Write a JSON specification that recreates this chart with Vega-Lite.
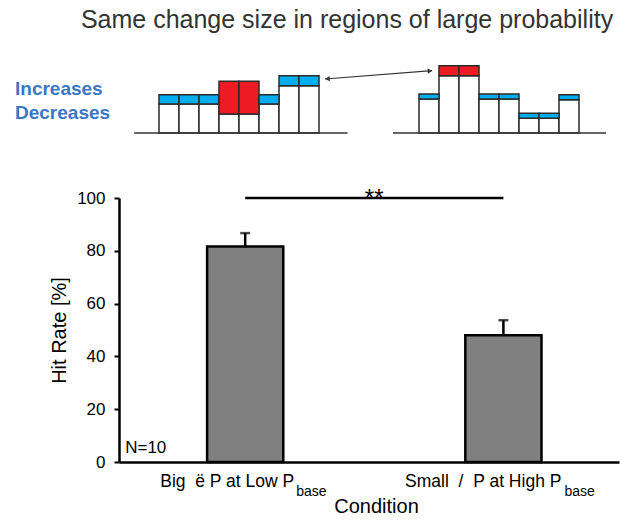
{
  "$schema": "https://vega.github.io/schema/vega-lite/v6.json",
  "padding": {"left": 14, "top": 8, "right": 4, "bottom": 4},
  "autosize": {"type": "pad"},
  "title": {"text": "Same change size in regions of large probability", "fontSize": 25, "fontWeight": "normal", "color": "#333333", "font": "Liberation Sans", "anchor": "middle", "dx": 30, "offset": 20},
  "bounds": "flush",
  "spacing": 65,
  "config": {"view": {"stroke": null}, "font": "Liberation Sans", "axis": {"grid": false}},
  "vconcat": [
    {
      "width": 500,
      "height": 80,
      "data": {"values": [
        {"hist": "low", "bin_start": 0, "bin_end": 1, "base": 2.9, "top": 3.83, "change": "decrease"},
        {"hist": "low", "bin_start": 1, "bin_end": 2, "base": 2.9, "top": 3.83, "change": "decrease"},
        {"hist": "low", "bin_start": 2, "bin_end": 3, "base": 2.9, "top": 3.83, "change": "decrease"},
        {"hist": "low", "bin_start": 3, "bin_end": 4, "base": 1.9, "top": 5.17, "change": "increase"},
        {"hist": "low", "bin_start": 4, "bin_end": 5, "base": 1.9, "top": 5.17, "change": "increase"},
        {"hist": "low", "bin_start": 5, "bin_end": 6, "base": 2.9, "top": 3.83, "change": "decrease"},
        {"hist": "low", "bin_start": 6, "bin_end": 7, "base": 4.73, "top": 5.73, "change": "decrease"},
        {"hist": "low", "bin_start": 7, "bin_end": 8, "base": 4.73, "top": 5.73, "change": "decrease"},
        {"hist": "high", "bin_start": 13, "bin_end": 14, "base": 3.4, "top": 3.9, "change": "decrease"},
        {"hist": "high", "bin_start": 14, "bin_end": 15, "base": 5.73, "top": 6.73, "change": "increase"},
        {"hist": "high", "bin_start": 15, "bin_end": 16, "base": 5.73, "top": 6.73, "change": "increase"},
        {"hist": "high", "bin_start": 16, "bin_end": 17, "base": 3.4, "top": 3.9, "change": "decrease"},
        {"hist": "high", "bin_start": 17, "bin_end": 18, "base": 3.4, "top": 3.9, "change": "decrease"},
        {"hist": "high", "bin_start": 18, "bin_end": 19, "base": 1.47, "top": 1.97, "change": "decrease"},
        {"hist": "high", "bin_start": 19, "bin_end": 20, "base": 1.47, "top": 1.97, "change": "decrease"},
        {"hist": "high", "bin_start": 20, "bin_end": 21, "base": 3.33, "top": 3.83, "change": "decrease"}
      ]},
      "layer": [
        {
          "mark": {"type": "rect", "fill": "white", "stroke": "#2b2b2b", "strokeWidth": 1.5},
          "encoding": {
            "x": {"field": "bin_start", "type": "quantitative", "scale": {"domain": [-2, 23], "nice": false, "zero": false}, "axis": null},
            "x2": {"field": "bin_end"},
            "y": {"field": "base", "type": "quantitative", "scale": {"domain": [0, 8], "nice": false}, "axis": null},
            "y2": {"datum": 0}
          }
        },
        {
          "mark": {"type": "rect", "stroke": "#2b2b2b", "strokeWidth": 1.5},
          "encoding": {
            "x": {"field": "bin_start", "type": "quantitative"},
            "x2": {"field": "bin_end"},
            "y": {"field": "base", "type": "quantitative"},
            "y2": {"field": "top"},
            "color": {"field": "change", "type": "nominal", "scale": {"domain": ["increase", "decrease"], "range": ["#ED1C24", "#00AEEF"]}, "legend": null}
          }
        },
        {
          "data": {"values": [{}]},
          "mark": {"type": "rule", "stroke": "#333333", "strokeWidth": 1.5},
          "encoding": {"x": {"datum": -1.24}, "x2": {"datum": 9.43}, "y": {"datum": 0}}
        },
        {
          "data": {"values": [{}]},
          "mark": {"type": "rule", "stroke": "#333333", "strokeWidth": 1.5},
          "encoding": {"x": {"datum": 11.7}, "x2": {"datum": 22.35}, "y": {"datum": 0}}
        },
        {
          "data": {"values": [{}]},
          "mark": {"type": "rule", "stroke": "#333333", "strokeWidth": 1.2},
          "encoding": {"x": {"datum": 8.3}, "x2": {"datum": 13.65}, "y": {"datum": 5.4}, "y2": {"datum": 6.23}}
        },
        {
          "data": {"values": [{}]},
          "mark": {"type": "point", "shape": "triangle-left", "filled": true, "color": "#333333", "opacity": 1, "size": 28, "angle": -4.3},
          "encoding": {"x": {"datum": 8.42}, "y": {"datum": 5.42}}
        },
        {
          "data": {"values": [{}]},
          "mark": {"type": "point", "shape": "triangle-right", "filled": true, "color": "#333333", "opacity": 1, "size": 28, "angle": -4.3},
          "encoding": {"x": {"datum": 13.55}, "y": {"datum": 6.21}}
        },
        {
          "data": {"values": [{}]},
          "mark": {"type": "text", "text": "Increases", "align": "left", "baseline": "middle", "fontSize": 19, "fontWeight": "bold", "color": "#3A77C5"},
          "encoding": {"x": {"datum": -7.2}, "y": {"datum": 4.45}}
        },
        {
          "data": {"values": [{}]},
          "mark": {"type": "text", "text": "Decreases", "align": "left", "baseline": "middle", "fontSize": 19, "fontWeight": "bold", "color": "#3A77C5"},
          "encoding": {"x": {"datum": -7.2}, "y": {"datum": 2.03}}
        }
      ]
    },
    {
      "width": 500,
      "height": 264,
      "data": {"values": [
        {"condition": "big", "hit": 81.6, "upper": 86.7},
        {"condition": "small", "hit": 48.0, "upper": 53.7}
      ]},
      "layer": [
        {
          "mark": {"type": "bar", "fill": "#808080", "stroke": "black", "strokeWidth": 2.5},
          "encoding": {
            "x": {"field": "condition", "type": "nominal", "sort": ["big", "small"],
                  "scale": {"domain": ["big", "small"], "paddingInner": 0.705, "paddingOuter": 0.3207, "align": 0.532},
                  "axis": {"labels": false, "ticks": false, "domainColor": "black", "domainWidth": 2.5, "title": "Condition", "titleFontSize": 20, "titleFontWeight": "normal", "titleColor": "black", "titlePadding": 34, "titleX": 257}},
            "y": {"field": "hit", "type": "quantitative", "scale": {"domain": [0, 100]},
                  "axis": {"values": [0, 20, 40, 60, 80, 100], "title": "Hit Rate [%]", "titleFontSize": 20, "titleFontWeight": "normal", "titleColor": "black", "titlePadding": 7, "labelFontSize": 17, "labelColor": "black", "tickColor": "black", "tickSize": 5, "tickWidth": 2, "domainColor": "black", "domainWidth": 2.5, "labelPadding": 9}}
          }
        },
        {
          "mark": {"type": "rule", "stroke": "black", "strokeWidth": 2.5},
          "encoding": {"x": {"field": "condition", "type": "nominal"}, "y": {"field": "hit", "type": "quantitative"}, "y2": {"field": "upper"}}
        },
        {
          "mark": {"type": "tick", "color": "black", "thickness": 2.5, "size": 10, "orient": "horizontal"},
          "encoding": {"x": {"field": "condition", "type": "nominal"}, "y": {"field": "upper", "type": "quantitative"}}
        },
        {
          "data": {"values": [{}]},
          "mark": {"type": "rule", "stroke": "black", "strokeWidth": 2.5},
          "encoding": {"x": {"datum": "big"}, "x2": {"datum": "small"}, "y": {"datum": 100}}
        },
        {
          "data": {"values": [{}]},
          "mark": {"type": "text", "text": "**", "fontSize": 24, "align": "center", "baseline": "alphabetic", "dx": 129, "dy": 8, "color": "black"},
          "encoding": {"x": {"datum": "big"}, "y": {"datum": 100}}
        },
        {
          "data": {"values": [{}]},
          "mark": {"type": "text", "text": "N=10", "fontSize": 17, "align": "left", "baseline": "middle", "dx": -120, "color": "black"},
          "encoding": {"x": {"datum": "big"}, "y": {"datum": 5.3}}
        },
        {
          "data": {"values": [{}]},
          "mark": {"type": "text", "text": "Big \u00a0ë P at Low P", "fontSize": 17.5, "align": "right", "baseline": "alphabetic", "dx": 49, "dy": 25, "color": "black"},
          "encoding": {"x": {"datum": "big"}, "y": {"datum": 0}}
        },
        {
          "data": {"values": [{}]},
          "mark": {"type": "text", "text": "base", "fontSize": 14, "align": "left", "baseline": "alphabetic", "dx": 51, "dy": 34, "color": "black"},
          "encoding": {"x": {"datum": "big"}, "y": {"datum": 0}}
        },
        {
          "data": {"values": [{}]},
          "mark": {"type": "text", "text": "Small \u00a0/ \u00a0P at High P", "fontSize": 17.5, "align": "right", "baseline": "alphabetic", "dx": 58, "dy": 25, "color": "black"},
          "encoding": {"x": {"datum": "small"}, "y": {"datum": 0}}
        },
        {
          "data": {"values": [{}]},
          "mark": {"type": "text", "text": "base", "fontSize": 14, "align": "left", "baseline": "alphabetic", "dx": 61, "dy": 34, "color": "black"},
          "encoding": {"x": {"datum": "small"}, "y": {"datum": 0}}
        }
      ]
    }
  ]
}
